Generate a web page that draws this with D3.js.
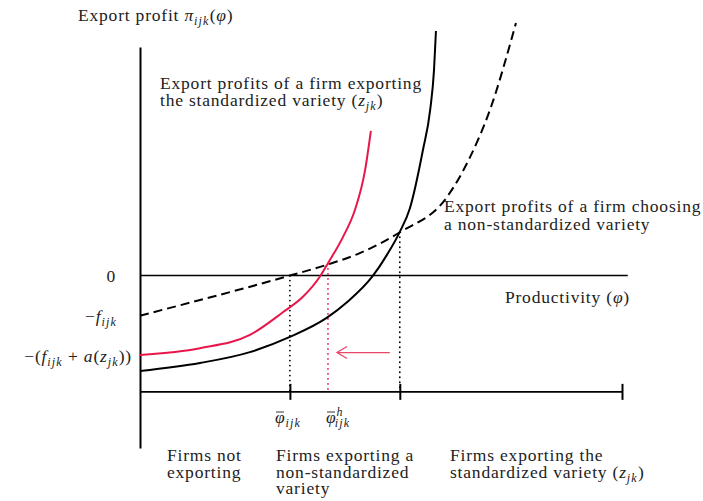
<!DOCTYPE html>
<html>
<head>
<meta charset="utf-8">
<script src="https://cdn.jsdelivr.net/npm/d3@7"></script>
<style>
body { margin: 0; background: #fff; }
svg text { font-family: "Liberation Serif", serif; font-size: 17.5px; letter-spacing: 0.8px; fill: #222; }
</style>
</head>
<body>
<svg width="703" height="501"></svg>
<script>
/* Curves: [productivity, export profit] */
var nonStandardized = [[0, -1.0], [12.45, -0.61], [24.9, -0.21], [31.1, 0], [38.8, 0.27], [45.6, 0.56],
    [53.9, 1.08], [63.7, 1.96], [68.5, 2.96], [72.6, 4.13], [78.0, 6.3]];
var standardized = [[0, -2.38], [12.45, -2.18], [22.8, -1.91], [31.1, -1.53], [38.8, -1.05], [43.0, -0.66],
    [48.3, -0.01], [51.2, 0.51], [53.9, 1.09], [56.0, 1.68], [58.7, 3.13], [60.2, 4.13], [61.0, 5.13], [61.4, 6.1]];
var standardizedHome = [[0, -1.98], [12.45, -1.81], [22.8, -1.48], [29.7, -0.91], [33.8, -0.53], [37.3, -0.03],
    [39.0, 0.31], [42.1, 0.96], [44.6, 1.64], [46.7, 2.63], [47.9, 3.61]];

/* Thresholds on the productivity axis */
var phiBar = 31.1, phiHome = 39.0, phiStar = 53.9, phiMax = 100;
var xTicks = [phiBar, phiStar, phiMax];
var zeroEnd = 101.2;
var floorY = -2.9;

/* Levels on the profit axis */
var yLevels = [0, -1, -2];

var svg = d3.select("svg");

var x = d3.scaleLinear().domain([0, 100]).range([140, 622]);
var y = d3.scaleLinear().domain([-4.3, 5.7]).range([448, 47]);

/* Text with italic, sub- and superscript pieces */
function tex(g, px, py, parts, anchor) {
    var t = g.append("text").attr("x", px).attr("y", py).attr("text-anchor", anchor || "start");
    var shift = 0;
    parts.forEach(function(p) {
        if (!p[0]) return;
        var s = p[1] || "", target = 0, size = null;
        if (s.indexOf("_") >= 0) { target = 4; size = "12px"; }
        if (s.indexOf("^") >= 0) { target = -7; size = "12px"; }
        var ts = t.append("tspan").text(p[0]).attr("dy", target - shift);
        shift = target;
        if (s.indexOf("i") >= 0) ts.attr("font-style", "italic");
        if (size) ts.attr("font-size", size).attr("letter-spacing", "1.2px");
        if (p[2]) ts.attr("dx", p[2]);
    });
    return t;
}

/* phi with a bar on top */
function phiBarLabel(px, py, sup) {
    tex(svg, px, py, [["\u03c6", "i"], [sup || "", "i^"], ["ijk", "i_", sup ? -9 : 0]]);
    svg.append("line")
        .attr("x1", px + 1).attr("x2", px + 9)
        .attr("y1", py - 11).attr("y2", py - 11)
        .attr("stroke", "#222").attr("stroke-width", 0.9);
}

var line = d3.line()
    .x(function(d) { return x(d[0]); })
    .y(function(d) { return y(d[1]); })
    .curve(d3.curveMonotoneX);

/* Vertical axis */
svg.append("g")
    .attr("transform", "translate(" + x(0) + ",0)")
    .call(d3.axisLeft(y).tickValues([]).tickSizeOuter(0))
    .select(".domain").attr("stroke-width", 2);

/* Zero line */
svg.append("line")
    .attr("x1", x(0)).attr("x2", x(zeroEnd))
    .attr("y1", y(0)).attr("y2", y(0))
    .attr("stroke", "#000").attr("stroke-width", 1.6);

/* Bottom productivity axis with centred ticks */
svg.append("line")
    .attr("x1", x(0)).attr("x2", x(phiMax))
    .attr("y1", y(floorY)).attr("y2", y(floorY))
    .attr("stroke", "#000").attr("stroke-width", 1.6);

var bx = svg.append("g")
    .attr("transform", "translate(0," + (y(floorY) - 8) + ")")
    .call(d3.axisBottom(x).tickValues(xTicks).tickSize(16).tickFormat(""));
bx.select(".domain").remove();
bx.selectAll(".tick line").attr("stroke-width", 2);

/* Dotted drop lines */
var drops = [
    {x: phiBar, top: 0, color: "#000"},
    {x: phiHome, top: 0.29, color: "#e8174a"},
    {x: phiStar, top: 1.08, color: "#000"}
];
svg.selectAll(".drop")
    .data(drops)
    .enter().append("line")
    .attr("class", "drop")
    .attr("x1", function(d) { return x(d.x); })
    .attr("x2", function(d) { return x(d.x); })
    .attr("y1", function(d) { return y(d.top); })
    .attr("y2", y(floorY))
    .attr("stroke", function(d) { return d.color; })
    .attr("stroke-width", 1.8)
    .attr("stroke-linecap", "round")
    .attr("stroke-dasharray", "0,5");

/* Curves */
svg.append("path")
    .datum(nonStandardized)
    .attr("fill", "none")
    .attr("stroke", "#000")
    .attr("stroke-width", 2)
    .attr("stroke-dasharray", "9,5")
    .attr("d", line);

svg.append("path")
    .datum(standardized)
    .attr("fill", "none")
    .attr("stroke", "#000")
    .attr("stroke-width", 2)
    .attr("d", line);

svg.append("path")
    .datum(standardizedHome)
    .attr("fill", "none")
    .attr("stroke", "#e8174a")
    .attr("stroke-width", 2)
    .attr("d", line);

/* Arrow from phiStar towards phiHome */
var arrowY = -1.92;
var ax0 = x(phiStar) - 10, ax1 = x(phiHome) + 9;
svg.append("path")
    .attr("d", "M" + ax0 + "," + y(arrowY) + "H" + ax1 +
        "M" + (ax1 + 10) + "," + (y(arrowY) - 6) + "L" + ax1 + "," + y(arrowY) + "L" + (ax1 + 10) + "," + (y(arrowY) + 6))
    .attr("fill", "none")
    .attr("stroke", "#e8476a")
    .attr("stroke-width", 1.3);

/* Labels on the profit axis */
tex(svg, 116, y(yLevels[0]) + 6, [["0"]], "end");
tex(svg, 117, y(yLevels[1]) + 6, [["\u2212"], ["f", "i"], ["ijk", "i_"]], "end");
tex(svg, 132, y(yLevels[2]) + 6, [["\u2212("], ["f", "i"], ["ijk", "i_"], [" + "], ["a", "i"], ["("], ["z", "i"], ["jk", "i_"], ["))"]], "end");

/* Titles and annotations */
tex(svg, 78, 21, [["Export profit "], ["\u03c0", "i"], ["ijk", "i_"], ["("], ["\u03c6", "i"], [")"]]);
tex(svg, 160, 89, [["Export profits of a firm exporting"]]);
tex(svg, 160, 106, [["the standardized variety ("], ["z", "i"], ["jk", "i_"], [")"]]);
tex(svg, 444, 212, [["Export profits of a firm choosing"]]);
tex(svg, 444, 230, [["a non-standardized variety"]]);
tex(svg, 630, 303, [["Productivity ("], ["\u03c6", "i"], [")"]], "end");

/* Threshold labels */
phiBarLabel(275, 423);
phiBarLabel(326, 423, "h");

/* Regions */
var regions = [
    {x: 167, lines: [[["Firms not"]], [["exporting"]]]},
    {x: 276, lines: [[["Firms exporting a"]], [["non-standardized"]], [["variety"]]]},
    {x: 450, lines: [[["Firms exporting the"]], [["standardized variety ("], ["z", "i"], ["jk", "i_"], [")"]]]}
];
regions.forEach(function(r) {
    r.lines.forEach(function(parts, i) {
        tex(svg, r.x, 461 + i * 16.5, parts);
    });
});
</script>
</body>
</html>
